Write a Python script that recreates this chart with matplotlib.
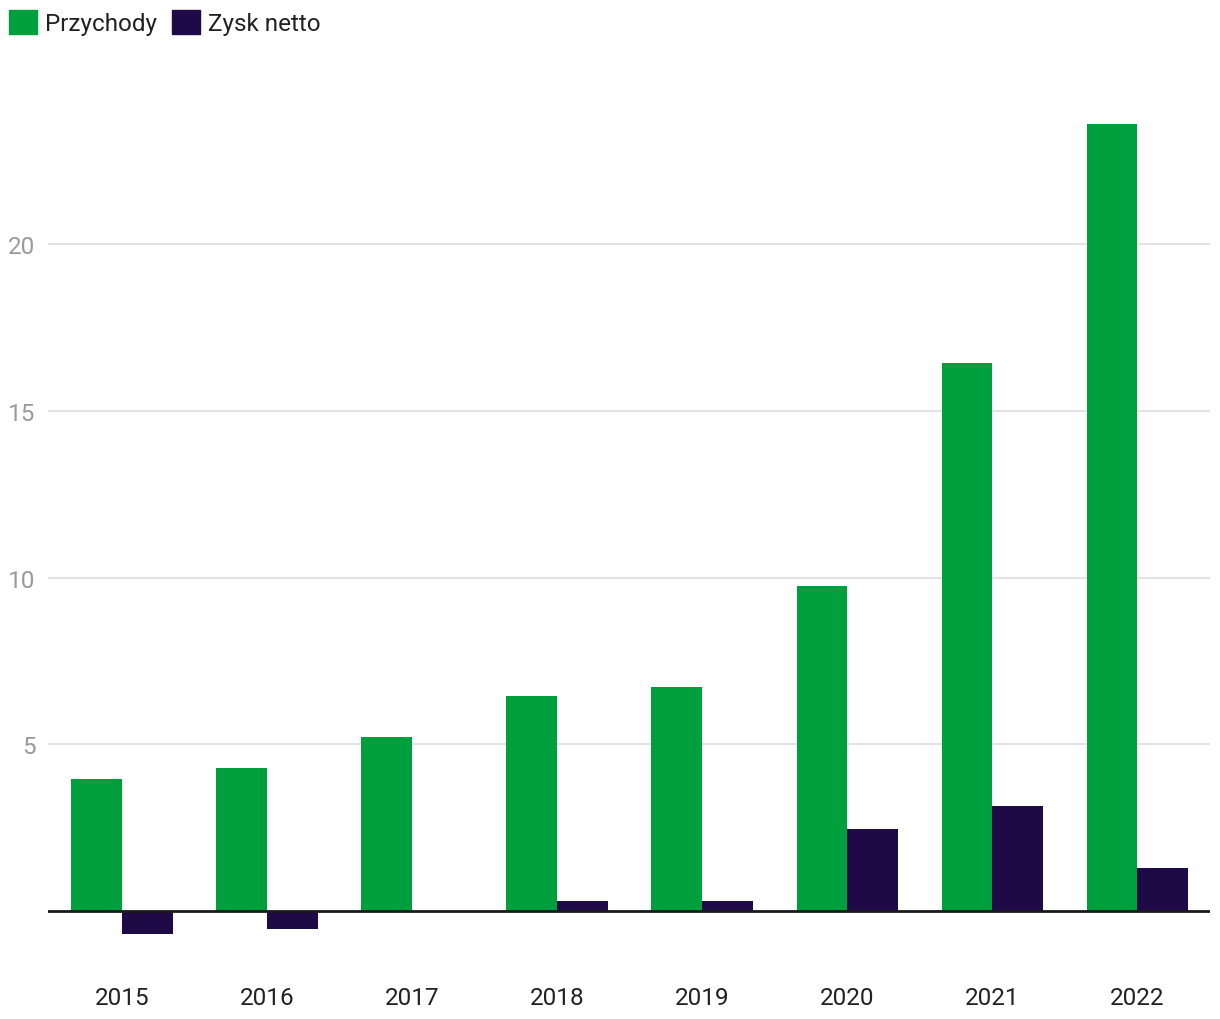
import numpy as np
import matplotlib.pyplot as plt
from matplotlib.patches import Patch

plt.rcParams['font.family'] = ['Roboto', 'DejaVu Sans']

years = ['2015', '2016', '2017', '2018', '2019', '2020', '2021', '2022']
przychody = [3.96, 4.29, 5.22, 6.45, 6.72, 9.75, 16.43, 23.6]
zysk_netto = [-0.68, -0.53, 0.0, 0.30, 0.30, 2.46, 3.15, 1.29]

green = '#009f3d'
navy = '#1f0a47'

fig = plt.figure(figsize=(12.2, 10.2), dpi=100)
ax = fig.add_axes([48/1220, 1-956/1020, (1210-48)/1220, (956-76)/1020])

x = np.arange(len(years))
w = 0.35
ax.bar(x - w/2, przychody, width=w, color=green, zorder=2)
ax.bar(x + w/2, zysk_netto, width=w, color=navy, zorder=2)

ax.set_xlim(-0.51, 7.5)
ax.set_ylim(-1.32, 25.07)
ax.set_yticks([5, 10, 15, 20])
ax.yaxis.grid(True, color='#e3e3e3', linewidth=1.5, zorder=0)
ax.axhline(0, color='#1a1a1a', linewidth=2, zorder=3)

ax.set_xticks(x)
ax.set_xticklabels(years)
ax.tick_params(axis='x', length=0, pad=22, labelsize=17.5, labelcolor='#222222')
ax.tick_params(axis='y', length=0, pad=9, labelsize=17.5, labelcolor='#9a9a9a')
for s in ax.spines.values():
    s.set_visible(False)

handles = [Patch(color=green, label='Przychody'), Patch(color=navy, label='Zysk netto')]
fig.legend(handles=handles, loc='upper left', bbox_to_anchor=(9/1220, 1-11/1020),
           ncol=2, frameon=False, fontsize=17.5, handlelength=1.15, handleheight=1.15,
           handletextpad=0.33, columnspacing=0.62, borderpad=0, borderaxespad=0,
           labelcolor='#222222')

plt.savefig('out.png')
plt.close()
